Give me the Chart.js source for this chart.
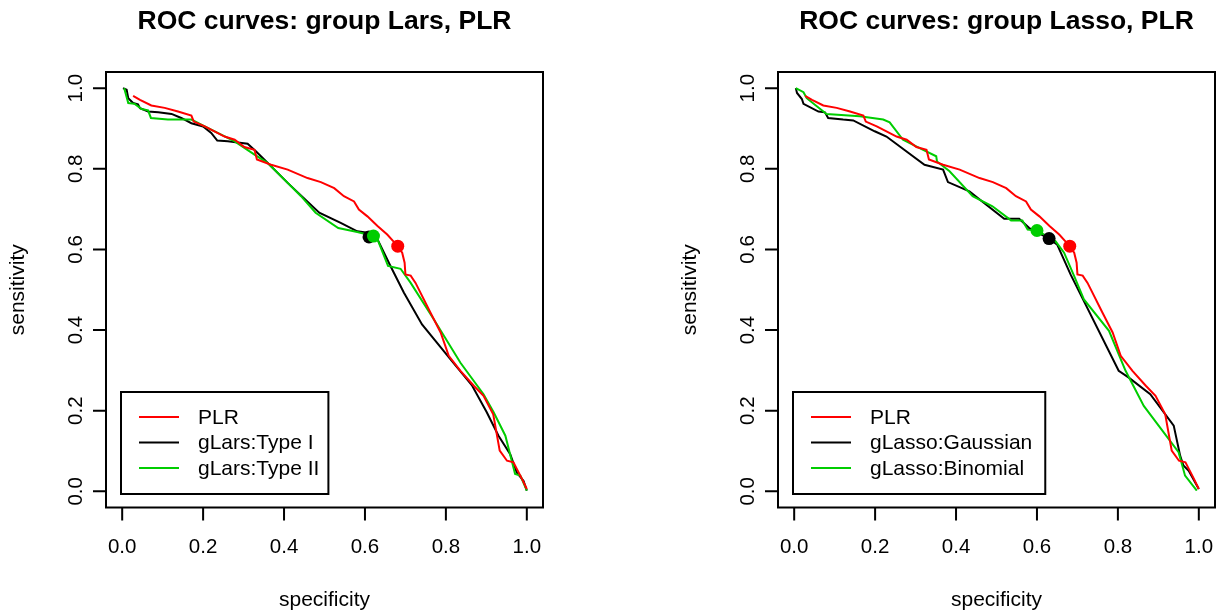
<!DOCTYPE html>
<html>
<head>
<meta charset="utf-8">
<script src="https://cdn.jsdelivr.net/npm/chart.js@4"></script>
<style>
  body { margin: 0; background: #fff; }
  #wrap { position: relative; width: 1222px; height: 611px; }
  canvas { position: absolute; top: 0; }
</style>
</head>
<body>
<div id="wrap">
  <canvas id="larsChart" width="611" height="611" style="left:0"></canvas>
  <canvas id="lassoChart" width="611" height="611" style="left:611px"></canvas>
</div>
<script>
const axisTicks = [0, 0.2, 0.4, 0.6, 0.8, 1.0];
const tickLabels = ["0.0", "0.2", "0.4", "0.6", "0.8", "1.0"];

// PLR curve (same in both panels)
const plrSpec = [0.027, 0.044, 0.072, 0.105, 0.138, 0.171, 0.177, 0.204, 0.228, 0.253, 0.278, 0.302, 0.327, 0.333, 0.368, 0.409, 0.458, 0.491, 0.524, 0.548, 0.573, 0.585, 0.606, 0.631, 0.655, 0.672, 0.682, 0.692, 0.698, 0.700, 0.713, 0.725, 0.762, 0.787, 0.807, 0.836, 0.869, 0.893, 0.917, 0.933, 0.951, 0.967, 0.988, 1.0];
const plrSens = [0.981, 0.971, 0.957, 0.951, 0.942, 0.932, 0.917, 0.905, 0.893, 0.880, 0.872, 0.854, 0.847, 0.823, 0.810, 0.798, 0.777, 0.767, 0.752, 0.732, 0.719, 0.699, 0.682, 0.658, 0.637, 0.618, 0.606, 0.592, 0.567, 0.538, 0.535, 0.517, 0.443, 0.394, 0.336, 0.299, 0.262, 0.237, 0.191, 0.101, 0.076, 0.072, 0.031, 0.006];
const plrCut = [0.681, 0.608];

// group Lars
const type1Spec = [0.002, 0.011, 0.015, 0.027, 0.039, 0.044, 0.064, 0.089, 0.122, 0.146, 0.171, 0.200, 0.220, 0.235, 0.261, 0.310, 0.331, 0.351, 0.409, 0.487, 0.540, 0.581, 0.610, 0.631, 0.663, 0.696, 0.741, 0.811, 0.865, 0.901, 0.930, 0.959, 0.975, 0.992, 1.0];
const type1Sens = [1.0, 0.996, 0.975, 0.963, 0.960, 0.950, 0.942, 0.940, 0.936, 0.926, 0.913, 0.905, 0.889, 0.870, 0.868, 0.862, 0.843, 0.823, 0.765, 0.691, 0.666, 0.645, 0.641, 0.625, 0.559, 0.493, 0.414, 0.328, 0.262, 0.196, 0.138, 0.092, 0.047, 0.026, 0.002];
const type1Cut = [0.610, 0.631];

const type2Spec = [0.005, 0.015, 0.031, 0.048, 0.064, 0.071, 0.113, 0.171, 0.204, 0.236, 0.278, 0.327, 0.360, 0.442, 0.478, 0.534, 0.581, 0.621, 0.631, 0.657, 0.688, 0.713, 0.770, 0.836, 0.893, 0.918, 0.947, 0.971, 0.984, 1.0];
const type2Sens = [1.0, 0.963, 0.961, 0.948, 0.945, 0.926, 0.922, 0.922, 0.905, 0.889, 0.868, 0.835, 0.814, 0.732, 0.691, 0.653, 0.643, 0.633, 0.625, 0.559, 0.552, 0.517, 0.427, 0.319, 0.241, 0.196, 0.138, 0.043, 0.039, 0.002];
const type2Cut = [0.621, 0.633];

// group Lasso
const gaussSpec = [0.004, 0.007, 0.019, 0.023, 0.060, 0.076, 0.084, 0.121, 0.146, 0.199, 0.228, 0.322, 0.368, 0.380, 0.433, 0.519, 0.556, 0.581, 0.630, 0.650, 0.683, 0.802, 0.827, 0.880, 0.938, 0.954, 0.962, 0.975, 1.0];
const gaussSens = [1.0, 0.988, 0.973, 0.961, 0.942, 0.940, 0.926, 0.922, 0.920, 0.893, 0.880, 0.810, 0.798, 0.767, 0.744, 0.676, 0.676, 0.653, 0.627, 0.612, 0.538, 0.299, 0.282, 0.241, 0.163, 0.088, 0.064, 0.051, 0.006];
const gaussCut = [0.630, 0.627];

const binomSpec = [0.004, 0.023, 0.031, 0.080, 0.162, 0.220, 0.236, 0.269, 0.310, 0.351, 0.353, 0.384, 0.441, 0.490, 0.536, 0.564, 0.577, 0.600, 0.646, 0.667, 0.692, 0.716, 0.778, 0.819, 0.864, 0.950, 0.966, 0.995];
const binomSens = [1.0, 0.990, 0.975, 0.936, 0.930, 0.922, 0.915, 0.872, 0.851, 0.831, 0.818, 0.794, 0.732, 0.707, 0.672, 0.672, 0.649, 0.647, 0.620, 0.592, 0.534, 0.476, 0.398, 0.299, 0.212, 0.097, 0.039, 0.002];
const binomCut = [0.600, 0.647];

const RED = "#FF0000", BLACK = "#000000", GREEN = "#00CD00";
const FONT = "'Liberation Sans', Arial, sans-serif";

function curve(label, xs, ys, color, order) {
    return {
        label: label,
        data: xs.map((v, i) => ({ x: v, y: ys[i] })),
        borderColor: color,
        backgroundColor: color,
        borderWidth: 2,
        pointRadius: 0,
        showLine: true,
        tension: 0,
        order: order
    };
}

function dot(pt, color, order) {
    return {
        data: [{ x: pt[0], y: pt[1] }],
        backgroundColor: color,
        borderColor: color,
        pointRadius: 6.5,
        borderWidth: 0,
        showLine: false,
        order: order
    };
}

// R-style frame, axes, titles and legend
const rFrame = {
    id: "rFrame",
    afterDraw(chart) {
        const { ctx, chartArea: a, scales } = chart;
        const x = scales.x, y = scales.y;
        const o = chart.options.plugins.rFrame;
        ctx.save();
        ctx.strokeStyle = "#000";
        ctx.lineWidth = 2;
        ctx.strokeRect(a.left, a.top, a.right - a.left, a.bottom - a.top);

        ctx.beginPath();
        axisTicks.forEach(v => {
            const px = x.getPixelForValue(v);
            ctx.moveTo(px, a.bottom);
            ctx.lineTo(px, a.bottom + 13);
            const py = y.getPixelForValue(v);
            ctx.moveTo(a.left, py);
            ctx.lineTo(a.left - 13, py);
        });
        ctx.stroke();

        ctx.fillStyle = "#000";
        ctx.textAlign = "center";
        ctx.textBaseline = "middle";
        ctx.font = "20.5px " + FONT;
        axisTicks.forEach((v, i) => {
            ctx.fillText(tickLabels[i], x.getPixelForValue(v), a.bottom + 40);
            ctx.save();
            ctx.translate(a.left - 30, y.getPixelForValue(v));
            ctx.rotate(-Math.PI / 2);
            ctx.fillText(tickLabels[i], 0, 0);
            ctx.restore();
        });

        ctx.font = "21px " + FONT;
        const cx = (a.left + a.right) / 2;
        ctx.fillText("specificity", cx, a.bottom + 93);
        ctx.save();
        ctx.translate(a.left - 88, (a.top + a.bottom) / 2);
        ctx.rotate(-Math.PI / 2);
        ctx.fillText("sensitivity", 0, 0);
        ctx.restore();

        ctx.font = "bold 26.5px " + FONT;
        ctx.fillText(o.title, cx, a.top - 50);

        // legend
        ctx.font = "21px " + FONT;
        const items = chart.data.datasets.filter(d => d.label);
        items.sort((p, q) => o.legendOrder.indexOf(p.label) - o.legendOrder.indexOf(q.label));
        const textW = Math.max(...items.map(d => ctx.measureText(d.label).width));
        const lx = a.left + 15, lb = a.bottom - 13.5;
        const lw = 77 + textW + o.legendPad, lh = 102;
        const lt = lb - lh;
        ctx.lineWidth = 2;
        ctx.strokeRect(lx, lt, lw, lh);
        ctx.textAlign = "left";
        items.forEach((d, i) => {
            const ry = lt + 25 + i * 25.5;
            ctx.strokeStyle = d.borderColor;
            ctx.beginPath();
            ctx.moveTo(lx + 18, ry);
            ctx.lineTo(lx + 58, ry);
            ctx.stroke();
            ctx.fillText(d.label, lx + 77, ry + 1);
        });
        ctx.restore();
    }
};

function makeChart(id, title, datasets, legendOrder, pad, legendPad) {
    const ctx = document.getElementById(id).getContext("2d");
    return new Chart(ctx, {
        type: "scatter",
        data: { datasets: datasets },
        options: {
            responsive: false,
            animation: false,
            layout: { padding: pad },
            scales: {
                x: { type: "linear", min: -0.04, max: 1.04, display: false },
                y: { type: "linear", min: -0.04, max: 1.04, display: false }
            },
            plugins: {
                legend: { display: false },
                tooltip: { enabled: false },
                rFrame: { title: title, legendOrder: legendOrder, legendPad: legendPad }
            }
        },
        plugins: [rFrame]
    });
}

makeChart("larsChart", "ROC curves: group Lars, PLR", [
    curve("PLR", plrSpec, plrSens, RED, 4),
    curve("gLars:Type II", type2Spec, type2Sens, GREEN, 5),
    curve("gLars:Type I", type1Spec, type1Sens, BLACK, 6),
    dot(plrCut, RED, 1),
    dot(type2Cut, GREEN, 2),
    dot(type1Cut, BLACK, 3)
], ["PLR", "gLars:Type I", "gLars:Type II"],
   { left: 106, right: 68, top: 72, bottom: 103.5 }, 9);

makeChart("lassoChart", "ROC curves: group Lasso, PLR", [
    curve("PLR", plrSpec, plrSens, RED, 4),
    curve("gLasso:Binomial", binomSpec, binomSens, GREEN, 5),
    curve("gLasso:Gaussian", gaussSpec, gaussSens, BLACK, 6),
    dot(plrCut, RED, 1),
    dot(binomCut, GREEN, 2),
    dot(gaussCut, BLACK, 3)
], ["PLR", "gLasso:Gaussian", "gLasso:Binomial"],
   { left: 167, right: 7, top: 72, bottom: 103.5 }, 13);
</script>
</body>
</html>
